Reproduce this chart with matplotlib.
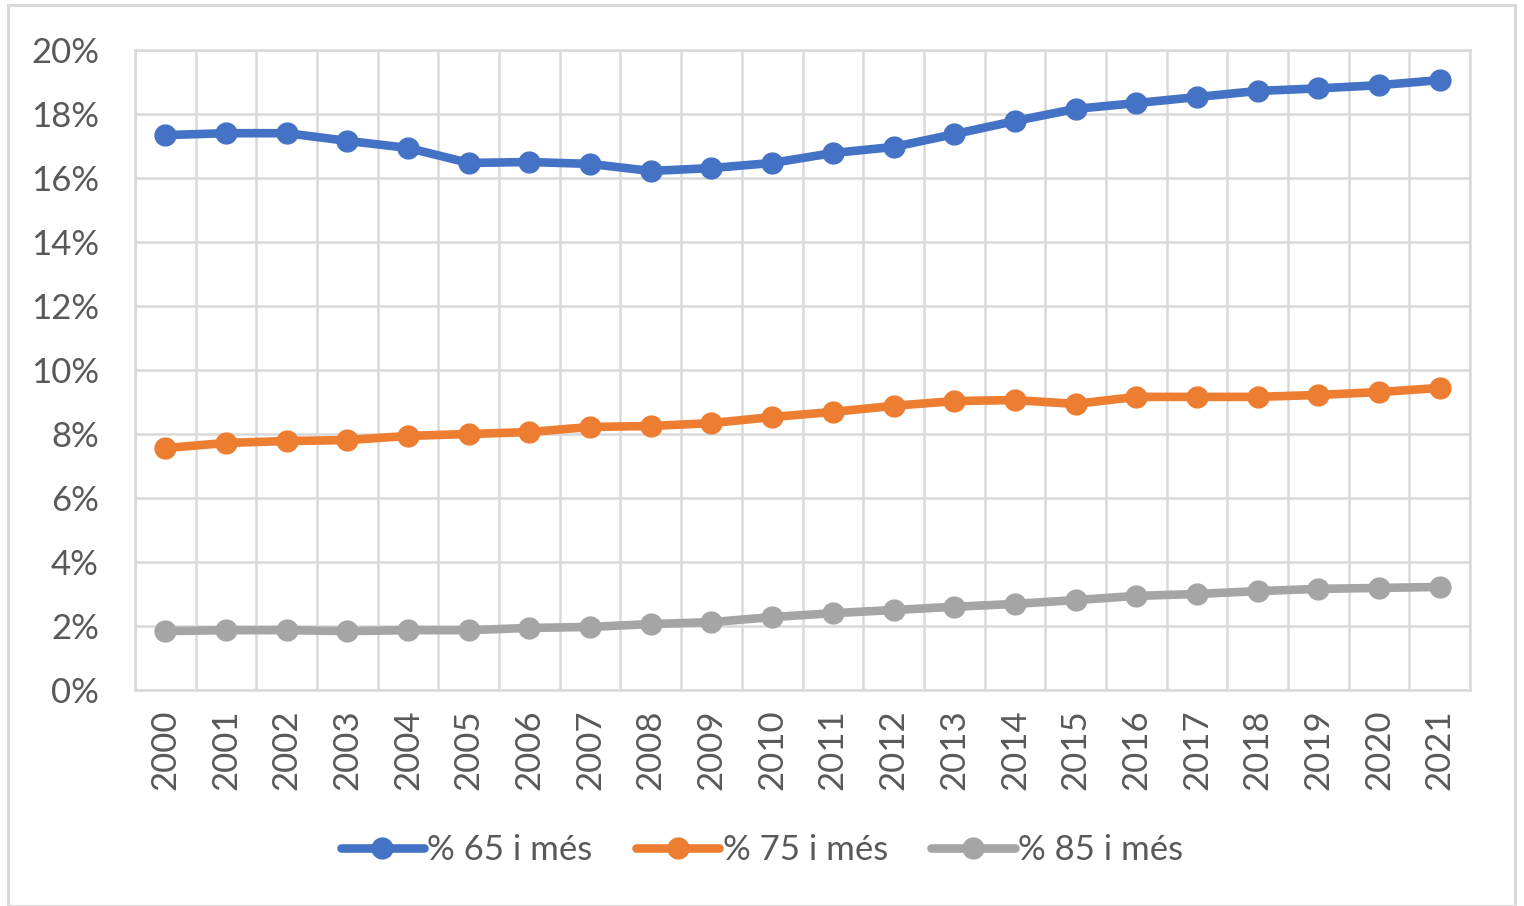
import matplotlib
matplotlib.use("Agg")
import matplotlib.pyplot as plt
from matplotlib.ticker import FuncFormatter, MultipleLocator, FixedLocator
from matplotlib.patches import Rectangle

years = [str(y) for y in range(2000, 2022)]
pct65 = [17.34, 17.40, 17.40, 17.16, 16.94, 16.47, 16.50, 16.44, 16.22, 16.31, 16.47,
         16.78, 16.97, 17.37, 17.78, 18.16, 18.34, 18.53, 18.72, 18.80, 18.90, 19.06]
pct75 = [7.56, 7.72, 7.78, 7.81, 7.94, 8.00, 8.06, 8.22, 8.25, 8.34, 8.53,
         8.69, 8.88, 9.03, 9.06, 8.94, 9.16, 9.16, 9.16, 9.22, 9.31, 9.44]
pct85 = [1.84, 1.87, 1.87, 1.84, 1.87, 1.87, 1.94, 1.97, 2.06, 2.12, 2.28,
         2.40, 2.50, 2.60, 2.69, 2.81, 2.94, 3.00, 3.09, 3.16, 3.19, 3.22]
series_labels = ["% 65 i més", "% 75 i més", "% 85 i més"]
colors = ["#4472C4", "#ED7D31", "#A5A5A5"]

plt.rcParams['font.family'] = ['Lato', 'DejaVu Sans']

fig = plt.figure(figsize=(15.24, 9.06), dpi=100)
fig.patches.append(Rectangle((8/1524, 0), 1507/1524, 901/906, transform=fig.transFigure,
                             fill=False, edgecolor="#d9d9d9", linewidth=2.2))
ax = fig.add_axes([135/1524, 1 - 690/906, (1470-135)/1524, (690-50)/906])

x = list(range(len(years)))
for vals, lab, c in zip([pct65, pct75, pct85], series_labels, colors):
    ax.plot(x, vals, color=c, linewidth=6.2, marker='o', markersize=15,
            label=lab, solid_capstyle='round', zorder=3)

ax.set_xlim(-0.5, len(years) - 0.5)
ax.set_ylim(0, 20)
ax.yaxis.set_major_locator(MultipleLocator(2))
ax.yaxis.set_major_formatter(FuncFormatter(lambda v, p: f"{int(round(v))}%"))
ax.set_xticks(x)
ax.set_xticklabels(years, rotation=90)
ax.xaxis.set_minor_locator(FixedLocator([i - 0.5 for i in range(len(years) + 1)]))
ax.grid(which='minor', axis='x', color='#d9d9d9', linewidth=1.8)
ax.grid(which='major', axis='y', color='#d9d9d9', linewidth=1.8)
ax.set_axisbelow(True)
for s in ax.spines.values():
    s.set_color('#d9d9d9')
    s.set_linewidth(1.8)
ax.tick_params(axis='both', which='both', length=0, colors='#595959', labelsize=25)
ax.tick_params(axis='y', pad=26)
ax.tick_params(axis='x', pad=14)

leg = fig.legend(loc='center', bbox_to_anchor=(0.5, 1 - 850/906), ncol=3, frameon=False,
                 fontsize=25, handlelength=2.4, columnspacing=1.25, handletextpad=0.1,
                 labelcolor='#595959')

fig.savefig("out.png", dpi=100)
